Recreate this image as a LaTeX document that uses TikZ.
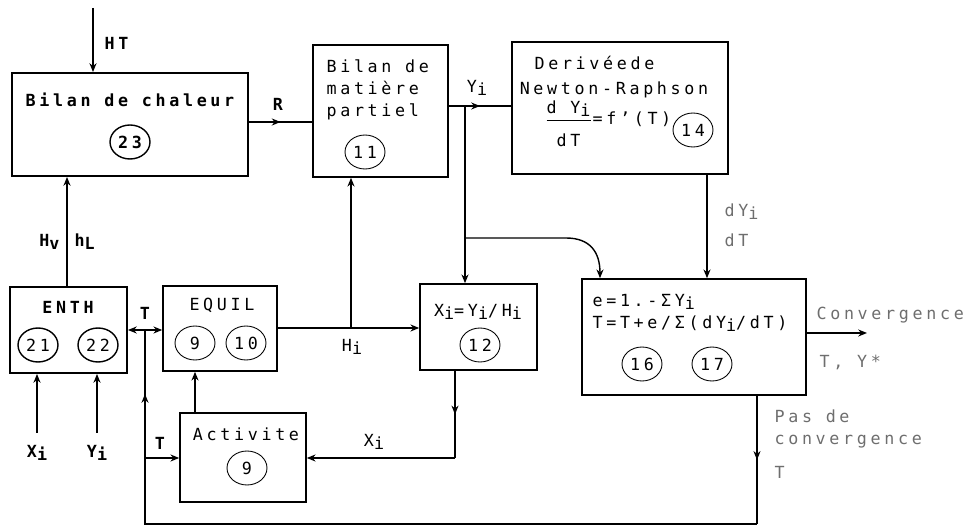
\documentclass[tikz,border=0pt]{standalone}
\usepackage{fontspec}
\setmainfont{DejaVu Sans Mono}[LetterSpace=22]
\usepackage{xcolor}
\usepackage{tikz}
\usetikzlibrary{arrows.meta, decorations.markings, shapes.geometric, calc}
\definecolor{faded}{RGB}{110, 110, 110}
\newcommand{\ix}[1]{\raisebox{-0.35ex}{#1}}

\begin{document}
\begin{tikzpicture}[x=0.02cm, y=-0.02cm,
    font=\fontsize{9.5}{12.5}\selectfont,
    >={Stealth[length=5pt,width=4pt]},
    line width=0.8pt,
    box/.style={draw, line width=0.9pt, inner sep=0pt},
    num/.style={draw, ellipse, line width=0.5pt, inner sep=0pt,
                minimum width=0.8cm, minimum height=0.68cm},
    dark/.style={font=\fontsize{9.5}{12.5}\selectfont\bfseries},
    midarr/.style={decoration={markings,
                   mark=at position 0.5 with {\arrow{>}}},
                   postaction={decorate}}]
    \useasboundingbox (0,0) rectangle (968,530);

    % BOXES
    \node[box, line width=1.1pt, minimum width=4.72cm, minimum height=2.06cm] (chaleur) at (130,124.5) {};
    \node[box, minimum width=2.7cm,  minimum height=2.64cm] (matiere) at (380.5,111) {};
    \node[box, minimum width=4.32cm, minimum height=2.64cm] (derivee) at (620,108) {};
    \node[box, line width=1.1pt, minimum width=2.34cm, minimum height=1.72cm] (enth) at (68.5,330) {};
    \node[box, minimum width=2.28cm, minimum height=1.7cm]  (equil) at (220,328.5) {};
    \node[box, minimum width=2.34cm, minimum height=1.72cm] (xrel) at (478.5,327) {};
    \node[box, minimum width=4.48cm, minimum height=2.32cm] (conv) at (694,337) {};
    \node[box, minimum width=2.52cm, minimum height=1.78cm] (activ) at (243,457.5) {};

    % Box contents
    \node[dark] (tchal) at (130,100) {Bilan de chaleur};
    \node[num, dark, line width=0.8pt] (n23) at (130,142) {23};
    \node[align=left, anchor=west] (tmat) at (320,90) {Bilan de\\matière\\partiel};
    \node[num] (n11) at (365,152) {11};
    \node[anchor=west] (tder) at (528,63) {Derivéede};
    \node (tnr) at (614,90) {Newton-Raphson};
    \node[anchor=west] (tfrac) at (538,124)
        {$\displaystyle\frac{\mbox{d Y\ix{i}}\rule[-0.5ex]{0pt}{1ex}}{\mbox{dT}\rule{0pt}{2.6ex}}$=f'(T)};
    \node[num] (n14) at (693,130) {14};
    \node[dark] (tenth) at (68,307) {ENTH};
    \node[num, line width=0.8pt] (n21) at (38,345) {21};
    \node[num, line width=0.8pt] (n22) at (98,345) {22};
    \node (tequil) at (222,305) {EQUIL};
    \node[num] (n9) at (195,343) {9};
    \node[num] (n10) at (246,343) {10};
    \node (txrel) at (478,312) {X\ix{i}=Y\ix{i}/H\ix{i}};
    \node[num] (n12) at (480,345) {12};
    \node[anchor=west] (tconva) at (586,302) {e=1.-ΣY\ix{i}};
    \node[anchor=west] (tconvb) at (586,324) {T=T+e/Σ(dY\ix{i}/dT)};
    \node[num] (n16) at (642,364) {16};
    \node[num] (n17) at (712,364) {17};
    \node (tact) at (246,434) {Activite};
    \node[num] (n9b) at (247,468) {9};

    % Connectors
    \coordinate (htin) at (93,8);
    \draw[->, line width=1.1pt] (htin) -- (htin |- chaleur.north);
    \coordinate (rlev) at (0,122);
    \draw[midarr] (chaleur.east |- rlev) -- (matiere.west |- rlev);
    \coordinate (ylev) at (0,106);
    \draw[midarr] (matiere.east |- ylev) -- (derivee.west |- ylev);
    \coordinate (yj) at (465,106);
    \draw[->] (yj) -- (yj |- xrel.north);
    \coordinate (bj) at (465,238);
    \coordinate (bk) at (566,238);
    \coordinate (ck) at (600,0);
    \draw[->] (bj) -- (bk) .. controls (590,238) and (600,252) .. (ck |- conv.north);
    \coordinate (dy) at (707,0);
    \draw[->] (dy |- derivee.south) -- (dy |- conv.north);
    \coordinate (hv) at (67,0);
    \draw[->, line width=1.1pt] (hv |- enth.north) -- (hv |- chaleur.south);
    \coordinate (tlev) at (0,330);
    \draw[<->] (enth.east |- tlev) -- (equil.west |- tlev);
    \coordinate (hlev) at (0,328);
    \draw[->] (equil.east |- hlev) -- (xrel.west |- hlev);
    \coordinate (mj) at (351,328);
    \draw[->] (mj) -- (mj |- matiere.south);
    \coordinate (xd) at (455,458);
    \draw[midarr] (xd |- xrel.south) -- (xd);
    \draw[->] (xd) -- (activ.east |- xd);
    \coordinate (ae) at (195,0);
    \draw[->] (ae |- activ.north) -- (ae |- equil.south);
    % Pas de convergence loop
    \coordinate (lr) at (757,524);
    \coordinate (ll) at (145,524);
    \coordinate (tb) at (145,458);
    \coordinate (tj) at (145,330);
    \draw[midarr] (lr |- conv.south) -- (lr);
    \draw (lr) -- (ll) -- (tb);
    \draw[midarr] (tb) -- (tj);
    \draw[->] (tb) -- (activ.west |- tb);
    \coordinate (cv) at (867,333);
    \draw[->] (conv.east |- cv) -- (cv);
    \coordinate (xin) at (37,433);
    \draw[->, line width=1.1pt] (xin) -- (xin |- enth.south);
    \coordinate (yin) at (97,433);
    \draw[->, line width=1.1pt] (yin) -- (yin |- enth.south);

    % Labels
    \node[anchor=west, dark] (lht) at (98,43) {HT};
    \node[dark] (lr) at (278,104) {R};
    \node (ly) at (477,88) {Y\ix{i}};
    \node[anchor=west, faded] (ldy) at (718,212) {dY\ix{i}};
    \node[anchor=west, faded] (ldt) at (718,240) {dT};
    \node[anchor=east, dark] (lhv) at (66,242) {H\ix{v}};
    \node[anchor=west, dark] (lhl) at (68,242) {h\ix{L}};
    \node[dark] (lta) at (145,313) {T};
    \node[dark] (ltb) at (160,443) {T};
    \node (lh) at (352,347) {H\ix{i}};
    \node (lx) at (374,442) {X\ix{i}};
    \node[dark] (lxi) at (37,453) {X\ix{i}};
    \node[dark] (lyi) at (97,453) {Y\ix{i}};
    \node[anchor=west, faded] (lconv) at (810,315) {Convergence};
    \node[anchor=west, faded] (lty) at (813,362) {T, Y*};
    \node[anchor=west, faded] (lpas) at (768,416) {Pas de};
    \node[anchor=west, faded] (lpasb) at (768,442) {convergence};
    \node[anchor=west, faded] (lpast) at (768,472) {T};
\end{tikzpicture}
\end{document}
